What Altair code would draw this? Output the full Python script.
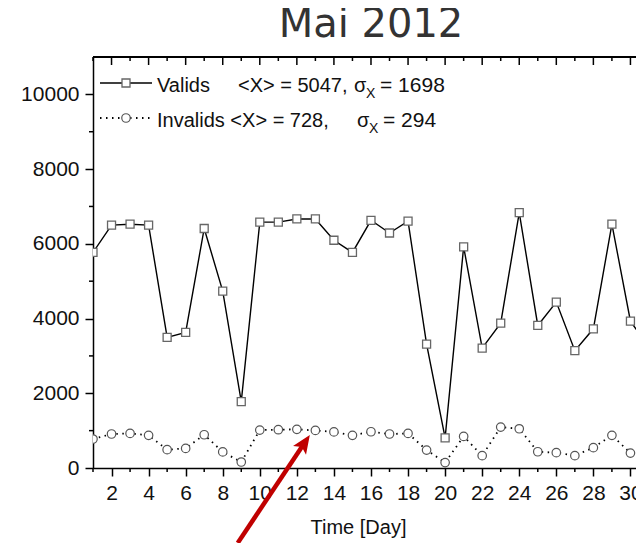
import altair as alt
import pandas as pd

# ---------------- data ----------------
days = list(range(1, 32))
valids = [5770, 6500, 6525, 6500, 3495, 3630, 6410, 4735, 1775, 6580, 6580,
          6665, 6665, 6095, 5770, 6630, 6290, 6605, 3315, 805, 5920, 3210,
          3875, 6835, 3815, 4440, 3140, 3725, 6525, 3930, 3230]
invalids = [775, 910, 925, 875, 490, 525, 890, 430, 160, 1015, 1025, 1035,
            1005, 965, 875, 970, 910, 925, 480, 145, 845, 330, 1095, 1050,
            435, 410, 330, 545, 875, 400, 420]
series_names = ["Valids", "Invalids"]
means = [5047, 728]
sigmas = [1698, 294]
title_text = "Mai 2012"
x_title = "Time [Day]"
x_major = list(range(2, 31, 2))
x_minor = list(range(1, 31, 2))
y_major = list(range(0, 10001, 2000))
y_minor = list(range(1000, 10000, 2000))
# red annotation arrow: tail and tip in data coordinates
arrow_tail = (8.81, -2005)
arrow_end = (12.4, 660)
arrow_tip = (12.7, 882)

# ---------------- layout ----------------
W, H = 543, 411
FONT = "Liberation Sans"

df_v = pd.DataFrame({"day": days, "value": valids})
df_i = pd.DataFrame({"day": days, "value": invalids})

xs = alt.Scale(domain=[1, 30.3], nice=False, zero=False)
ys = alt.Scale(domain=[0, 11000], nice=False)
x_axis = alt.Axis(values=x_major, title=x_title, tickSize=8, labelPadding=6,
                  grid=False, titleX=265, titleY=65, titleBaseline="alphabetic",
                  titleFontSize=20, titleFontWeight="normal", titleFont=FONT,
                  titleColor="#111111", labelFlush=False, format="d")
y_axis = alt.Axis(values=y_major, title=None, tickSize=8, labelPadding=6,
                  grid=False, labelFlush=False, format="d")


def X(field):
    return alt.X(field, type="quantitative", scale=xs, axis=x_axis)


def Y(field):
    return alt.Y(field, type="quantitative", scale=ys, axis=y_axis)


line_v = alt.Chart(df_v).mark_line(color="black", strokeWidth=1.4, clip=True).encode(
    x=X("day"), y=Y("value"))
line_i = alt.Chart(df_i).mark_line(color="black", strokeWidth=1.8, strokeDash=[1.5, 4.5],
                                   clip=True).encode(x=X("day"), y=Y("value"))
pts_v = alt.Chart(df_v).mark_point(shape="square", size=64, filled=True, fill="white",
                                   stroke="#666666", strokeWidth=1.3, opacity=1,
                                   clip=True).encode(x=X("day"), y=Y("value"))
pts_i = alt.Chart(df_i).mark_point(shape="circle", size=72, filled=True, fill="white",
                                   stroke="#555555", strokeWidth=1.2, opacity=1,
                                   clip=True).encode(x=X("day"), y=Y("value"))

# minor / mirrored ticks
df_xmin = pd.DataFrame({"d": x_minor})
df_xmaj = pd.DataFrame({"d": x_major})
df_ymin = pd.DataFrame({"v": y_minor})
tick_style = dict(color="black", strokeWidth=1.5)
bot_minor = alt.Chart(df_xmin).mark_rule(**tick_style).encode(
    x=X("d"), y=alt.value(H), y2=alt.value(H + 4))
top_minor = alt.Chart(df_xmin).mark_rule(**tick_style).encode(
    x=X("d"), y=alt.value(0), y2=alt.value(4))
top_major = alt.Chart(df_xmaj).mark_rule(**tick_style).encode(
    x=X("d"), y=alt.value(0), y2=alt.value(8))
left_minor = alt.Chart(df_ymin).mark_rule(**tick_style).encode(
    y=Y("v"), x=alt.value(-4), x2=alt.value(0))
top_border = alt.Chart(df_xmaj).mark_rule(color="black", strokeWidth=1.5).encode(
    x=alt.value(0), x2=alt.value(W), y=alt.value(0))

# custom legend
base = alt.Chart(pd.DataFrame({"k": [0]}))
leg_line_v = base.mark_rule(color="black", strokeWidth=1.4).encode(
    x=alt.value(7), x2=alt.value(59), y=alt.value(26))
leg_line_i = base.mark_rule(color="black", strokeWidth=1.8, strokeDash=[1.5, 4.5]).encode(
    x=alt.value(7), x2=alt.value(59), y=alt.value(61))
leg_pt_v = base.mark_point(shape="square", size=64, filled=True, fill="white",
                           stroke="#666666", strokeWidth=1.3, opacity=1).encode(
    x=alt.value(33), y=alt.value(26))
leg_pt_i = base.mark_point(shape="circle", size=72, filled=True, fill="white",
                           stroke="#555555", strokeWidth=1.2, opacity=1).encode(
    x=alt.value(33), y=alt.value(61))


def txt(s, x, y, size=20, **kw):
    return base.mark_text(text=s, align="left", baseline="alphabetic", font=FONT,
                          fontSize=size, color="#111111", **kw).encode(
        x=alt.value(x), y=alt.value(y))


legend_texts = [
    txt(series_names[0], 64, 35),
    txt(f"<X> = {means[0]},", 145, 35),
    txt("σ", 261, 35),
    txt("X", 273, 41, size=14),
    txt(f"= {sigmas[0]}", 287, 35, size=21),
    txt(f"{series_names[1]} <X> = {means[1]},", 64, 70),
    txt("σ", 264, 70),
    txt("X", 276, 76, size=14),
    txt(f"= {sigmas[1]}", 290, 70, size=21),
]

title_mark = base.mark_text(text=title_text, align="center", baseline="alphabetic",
                            font="DejaVu Sans", fontSize=40, color="#333333").encode(
    x=alt.value(278), y=alt.value(-20))

# arrow
df_arrow = pd.DataFrame({"x0": [arrow_tail[0]], "y0": [arrow_tail[1]],
                         "x1": [arrow_end[0]], "y1": [arrow_end[1]]})
df_tip = pd.DataFrame({"x": [arrow_tip[0]], "y": [arrow_tip[1]]})
arrow_line = alt.Chart(df_arrow).mark_rule(color="#c00000", strokeWidth=4.5,
                                           clip=False).encode(
    x=X("x0"), y=Y("y0"), x2="x1", y2="y1")
arrow_head = alt.Chart(df_tip).mark_point(
    shape="M0,0L-0.85,2L0,1.55L0.85,2Z", size=340, filled=True, color="#c00000",
    opacity=1, angle=34, clip=False).encode(x=X("x"), y=Y("y"))

chart = alt.layer(
    line_v, line_i, pts_v, pts_i,
    bot_minor, top_minor, top_major, left_minor, top_border,
    leg_line_v, leg_line_i, leg_pt_v, leg_pt_i, *legend_texts,
    title_mark, arrow_line, arrow_head,
).properties(
    width=W, height=H,
    padding={"left": 85, "top": 49, "right": 0, "bottom": 75},
    autosize=alt.AutoSizeParams(type="none"),
).configure_view(stroke=None).configure_axis(
    domainColor="black", domainWidth=1.5, tickColor="black", tickWidth=1.5,
    labelFont=FONT, labelFontSize=21, labelColor="#111111",
)

chart.save("out.html", embed_options={"renderer": "svg", "actions": False})
